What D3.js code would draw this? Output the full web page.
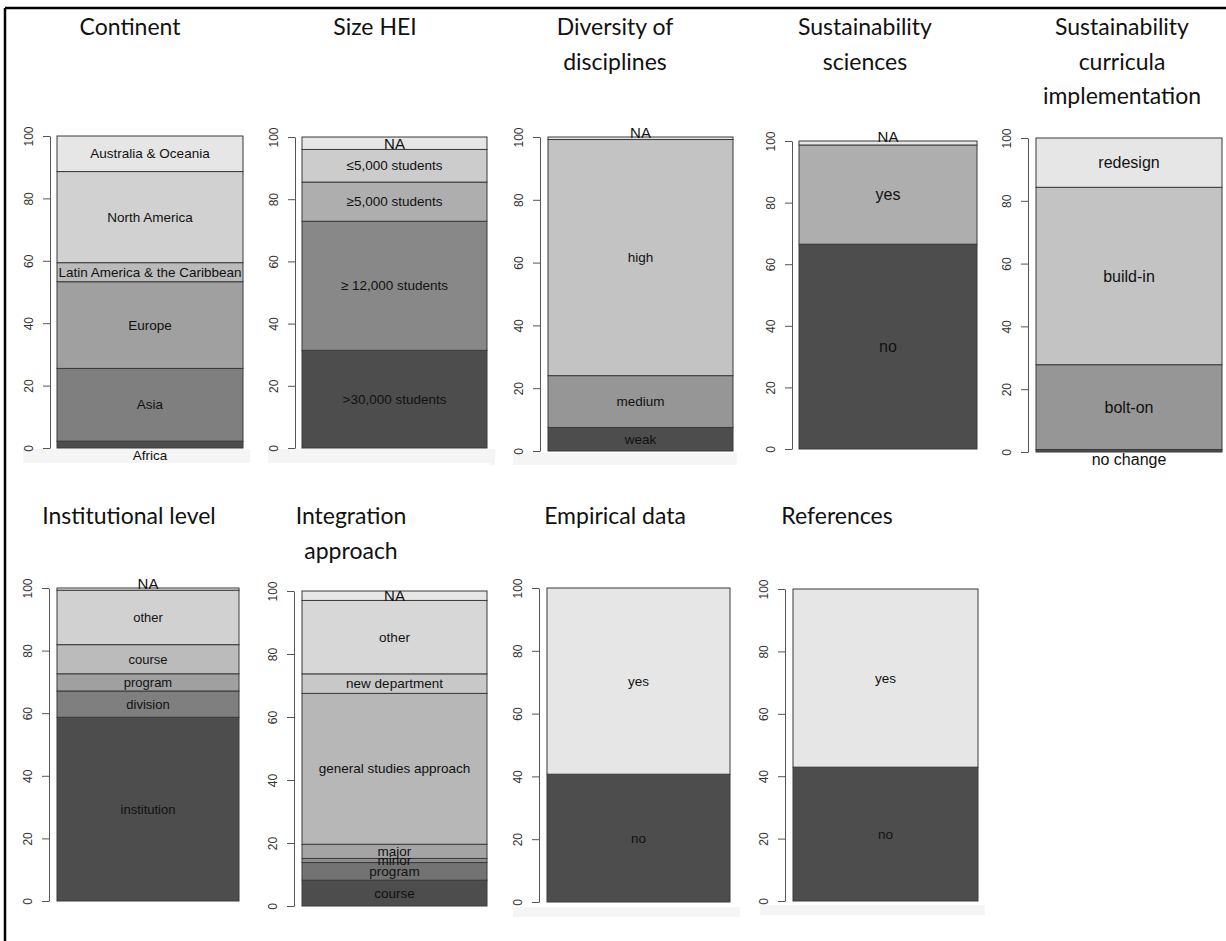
<!DOCTYPE html>
<html>
<head>
<meta charset="utf-8">
<script src="https://cdn.jsdelivr.net/npm/d3@7/dist/d3.min.js"></script>
<style>
  html, body { margin: 0; padding: 0; background: #fff; }
  svg { display: block; }
  .title { font-family: Lato, "Open Sans", sans-serif; font-size: 23px; fill: #111; }
  .seg-label { font-family: "Liberation Sans", Arial, sans-serif; fill: #111; }
  .axis text { font-family: "Liberation Sans", Arial, sans-serif; font-size: 12px; fill: #333; }
  .axis path, .axis line { stroke: #555; stroke-width: 1; }
</style>
</head>
<body>
<svg id="chart" width="1226" height="941"></svg>
<script>
// ---- data: share of cases (%) per category, stacked bottom to top ----
const panelTitles = [
  ["Continent"],
  ["Size HEI"],
  ["Diversity of", "disciplines"],
  ["Sustainability", "sciences"],
  ["Sustainability", "curricula", "implementation"],
  ["Institutional level"],
  ["Integration", "approach"],
  ["Empirical data"],
  ["References"]
];

const continentCategories = ["Africa", "Asia", "Europe", "Latin America & the Caribbean", "North America", "Australia & Oceania"];
const continentValues     = [2.2, 23.3, 27.8, 6.1, 29.2, 11.4];

const sizeCategories = [">30,000 students", "\u2265 12,000 students", "\u22655,000 students", "\u22645,000 students", "NA"];
const sizeValues     = [31.4, 41.5, 12.6, 10.5, 4.0];

const diversityCategories = ["weak", "medium", "high", "NA"];
const diversityValues     = [7.5, 16.5, 75.2, 0.8];

const sciencesCategories = ["no", "yes", "NA"];
const sciencesValues     = [66.5, 32.2, 1.3];

const curriculaCategories = ["no change", "bolt-on", "build-in", "redesign"];
const curriculaValues     = [0.8, 27.0, 56.5, 15.7];

const levelCategories = ["institution", "division", "program", "course", "other", "NA"];
const levelValues     = [58.7, 8.4, 5.5, 9.3, 17.4, 0.7];

const approachCategories = ["course", "program", "minor", "major", "general studies approach", "new department", "other", "NA"];
const approachValues     = [8.2, 5.6, 1.3, 4.5, 47.9, 6.2, 23.3, 3.0];

const empiricalCategories = ["no", "yes"];
const empiricalValues     = [40.7, 59.3];

const referencesCategories = ["no", "yes"];
const referencesValues     = [42.9, 57.1];

const yTicks = [0, 20, 40, 60, 80, 100];

const panelCategories = [continentCategories, sizeCategories, diversityCategories, sciencesCategories,
  curriculaCategories, levelCategories, approachCategories, empiricalCategories, referencesCategories];
const panelValues = [continentValues, sizeValues, diversityValues, sciencesValues,
  curriculaValues, levelValues, approachValues, empiricalValues, referencesValues];

// ---- layout of the nine small plots ----
const layout = [
  { axisX: 50,   barL: 57,   barR: 243,  top: 136, bottom: 448, titleX: 130,  titleY: 35,  labelSize: 13.5 },
  { axisX: 295,  barL: 302,  barR: 487,  top: 137, bottom: 448, titleX: 375,  titleY: 35,  labelSize: 13.5 },
  { axisX: 540,  barL: 548,  barR: 733,  top: 137, bottom: 451, titleX: 615,  titleY: 35,  labelSize: 13.5 },
  { axisX: 792,  barL: 799,  barR: 977,  top: 141, bottom: 449, titleX: 865,  titleY: 35,  labelSize: 16 },
  { axisX: 1028, barL: 1036, barR: 1222, top: 138, bottom: 452, titleX: 1122, titleY: 35,  labelSize: 16 },
  { axisX: 49,   barL: 57,   barR: 239,  top: 588, bottom: 901, titleX: 129,  titleY: 524, labelSize: 13 },
  { axisX: 294,  barL: 302,  barR: 487,  top: 591, bottom: 906, titleX: 351,  titleY: 524, labelSize: 13.5 },
  { axisX: 539,  barL: 547,  barR: 730,  top: 588, bottom: 902, titleX: 615,  titleY: 524, labelSize: 13.5 },
  { axisX: 785,  barL: 793,  barR: 978,  top: 589, bottom: 901, titleX: 837,  titleY: 524, labelSize: 13.5 }
];
const titleLineHeight = 34.5;

// faint strips sitting just under some of the bars
const strips = [
  { x: 23, y: 449, w: 225, h: 14 },
  { x: 245, y: 449, w: 5, h: 14 },
  { x: 268, y: 449, w: 227, h: 14 },
  { x: 490, y: 453, w: 5, h: 12 },
  { x: 513, y: 453, w: 224, h: 12 },
  { x: 513, y: 907, w: 227, h: 10 },
  { x: 760, y: 905, w: 225, h: 10 }
];

// grey ramp (gamma-corrected, from 0.3 to 0.9 grey level)
function greyRamp(n) {
  const a = Math.pow(0.3, 2.2), b = Math.pow(0.9, 2.2);
  return d3.range(n).map(i => {
    const v = n === 1 ? a : a + (b - a) * i / (n - 1);
    const g = Math.round(255 * Math.pow(v, 1 / 2.2));
    return d3.rgb(g, g, g).formatHex();
  });
}

const svg = d3.select("#chart");

// frame on the left and top
svg.append("line").attr("x1", 5).attr("x2", 1226).attr("y1", 8).attr("y2", 8)
  .attr("stroke", "#000").attr("stroke-width", 2.5);
svg.append("line").attr("x1", 5).attr("x2", 5).attr("y1", 8).attr("y2", 941)
  .attr("stroke", "#000").attr("stroke-width", 2.5);

svg.selectAll("rect.strip").data(strips).enter().append("rect")
  .attr("class", "strip")
  .attr("x", d => d.x).attr("y", d => d.y).attr("width", d => d.w).attr("height", d => d.h)
  .attr("fill", "#f5f5f5");

panelCategories.forEach((cats, p) => {
  const vals = panelValues[p];
  const L = layout[p];
  const g = svg.append("g");

  const y = d3.scaleLinear().domain([0, 100]).range([L.bottom, L.top]);
  const x = d3.scaleLinear().domain([0, 1]).range([L.barL, L.barR]);
  const colours = greyRamp(cats.length);

  const ends = Array.from(d3.cumsum(vals));
  const segs = cats.map((c, i) => ({
    name: c,
    lo: i === 0 ? 0 : ends[i - 1],
    hi: ends[i],
    fill: colours[i]
  }));

  // stacked segments
  g.selectAll("rect.seg").data(segs).enter().append("rect")
    .attr("class", "seg")
    .attr("x", x(0))
    .attr("width", x(1) - x(0))
    .attr("y", d => y(d.hi))
    .attr("height", d => y(d.lo) - y(d.hi))
    .attr("fill", d => d.fill)
    .attr("stroke", "#3a3a3a")
    .attr("stroke-width", 1);

  // segment names
  g.selectAll("text.seg-label").data(segs).enter().append("text")
    .attr("class", "seg-label")
    .attr("x", (x(0) + x(1)) / 2)
    .attr("y", d => {
      const thin = d.hi - d.lo;
      if (thin < 2 && d.hi >= 99.9) return y(100) - 5;   // sliver at the top
      if (thin < 3 && d.lo === 0) return y(0) + 7;        // sliver at the bottom
      return y((d.lo + d.hi) / 2);
    })
    .attr("text-anchor", "middle")
    .attr("dominant-baseline", "central")
    .style("font-size", d => (d.name === "NA" ? 15 : L.labelSize) + "px")
    .text(d => d.name);

  // y axis with rotated tick labels
  const ax = g.append("g").attr("class", "axis")
    .attr("transform", `translate(${L.axisX},0)`)
    .call(d3.axisLeft(y).tickValues(yTicks).tickSize(7).tickSizeOuter(0).tickFormat(d3.format("d")));
  ax.selectAll(".tick text")
    .attr("x", 0).attr("dy", 0)
    .attr("text-anchor", "middle")
    .attr("transform", "translate(-17.5,0) rotate(-90)");

  // title
  const t = g.append("text").attr("class", "title")
    .attr("x", L.titleX).attr("y", L.titleY).attr("text-anchor", "middle");
  panelTitles[p].forEach((line, i) => {
    t.append("tspan").attr("x", L.titleX).attr("y", L.titleY + i * titleLineHeight).text(line);
  });
});
</script>
</body>
</html>
